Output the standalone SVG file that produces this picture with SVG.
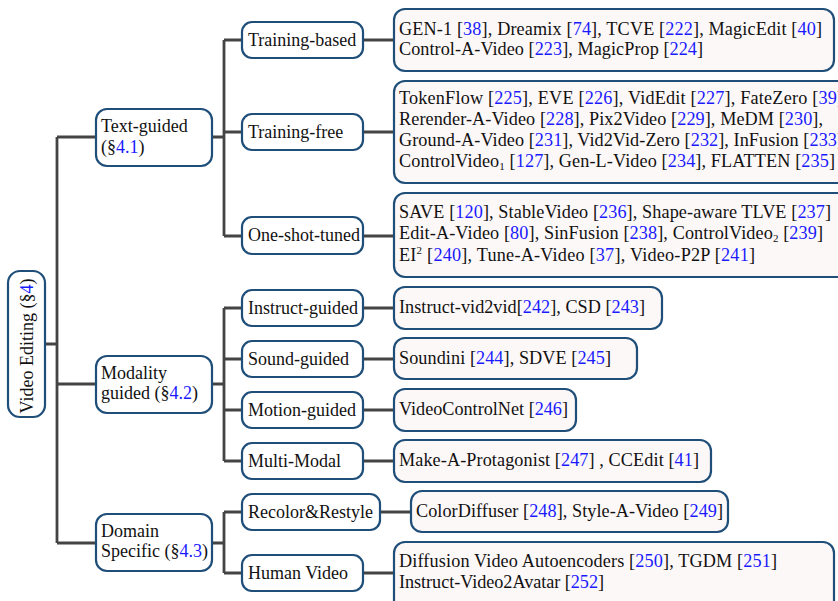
<svg xmlns="http://www.w3.org/2000/svg" width="838" height="601" viewBox="0 0 838 601">
<style>
text{font-family:"Liberation Serif","Times New Roman",serif;font-size:18px;fill:#111}
.r{fill:#1a1aff}
.n rect{fill:#fff;stroke:#1f4e79;stroke-width:2.2}
.l rect{fill:#fdf8f8;stroke:#1f4e79;stroke-width:2.2}
.l text{font-size:18.2px}
.c path{fill:none;stroke:#444;stroke-width:2.8}
</style>
<rect width="838" height="601" fill="#fff"/>
<g class="c">
<path d="M45 344H57M57 137V543M57 137H96M57 384H96M57 543H96"/>
<path d="M212 137H224M224 40V236M224 40H242M224 132H242M224 236H242"/>
<path d="M212 384H224M224 308V461M224 308H242M224 359H242M224 410H242M224 461H242"/>
<path d="M212 543H224M224 512V573M224 512H242M224 573H242"/>
<path d="M363 40H394M363 132H394M363 236H394M363 308H394M363 359H394M363 410H394M363 461H394M380 512H411M363 573H394"/>
</g>
<g id="root" class="n"><rect x="8" y="271" width="37" height="146" rx="12"/>
<text transform="translate(32.5 346) rotate(-90)" text-anchor="middle">Video Editing (§<tspan class="r">4</tspan>)</text></g>
<g id="text-guided" class="n"><rect x="96" y="109" width="116" height="57" rx="11"/>
<text x="101" y="132">Text-guided</text><text x="101" y="152.5">(§<tspan class="r">4.1</tspan>)</text></g>
<g id="modality" class="n"><rect x="96" y="356" width="116" height="57" rx="11"/>
<text x="101" y="378.5">Modality</text><text x="101" y="399">guided (§<tspan class="r">4.2</tspan>)</text></g>
<g id="domain" class="n"><rect x="96" y="514" width="116" height="57" rx="11"/>
<text x="101" y="536.5">Domain</text><text x="101" y="557">Specific (§<tspan class="r">4.3</tspan>)</text></g>
<g id="training-based" class="n"><rect x="242" y="22" width="121" height="36" rx="10"/><text x="248" y="45.5">Training-based</text></g>
<g id="training-free" class="n"><rect x="242" y="114" width="121" height="36" rx="10"/><text x="248" y="137.5">Training-free</text></g>
<g id="one-shot" class="n"><rect x="242" y="217" width="121" height="37" rx="10"/><text x="248" y="241">One-shot-tuned</text></g>
<g id="instruct" class="n"><rect x="242" y="290" width="121" height="36" rx="10"/><text x="248" y="313.5">Instruct-guided</text></g>
<g id="sound" class="n"><rect x="242" y="341" width="121" height="36" rx="10"/><text x="248" y="364.5">Sound-guided</text></g>
<g id="motion" class="n"><rect x="242" y="392" width="121" height="36" rx="10"/><text x="248" y="415.5">Motion-guided</text></g>
<g id="multi" class="n"><rect x="242" y="443" width="121" height="36" rx="10"/><text x="248" y="466.5">Multi-Modal</text></g>
<g id="recolor" class="n"><rect x="242" y="494" width="138" height="36" rx="10"/><text x="248" y="517.5">Recolor&amp;Restyle</text></g>
<g id="human" class="n"><rect x="242" y="555" width="121" height="36" rx="10"/><text x="248" y="578.5">Human Video</text></g>
<g id="leaf-tb" class="l"><rect x="394" y="9" width="440" height="62" rx="11"/>
<text x="399" y="34.5" textLength="423" lengthAdjust="spacing">GEN-1 [<tspan class="r">38</tspan>], Dreamix [<tspan class="r">74</tspan>], TCVE [<tspan class="r">222</tspan>], MagicEdit [<tspan class="r">40</tspan>]</text>
<text x="399" y="55" textLength="304" lengthAdjust="spacing">Control-A-Video [<tspan class="r">223</tspan>], MagicProp [<tspan class="r">224</tspan>]</text></g>
<g id="leaf-tf" class="l"><rect x="394" y="81" width="460" height="102" rx="11"/>
<text x="399" y="104" textLength="444" lengthAdjust="spacing">TokenFlow [<tspan class="r">225</tspan>], EVE [<tspan class="r">226</tspan>], VidEdit [<tspan class="r">227</tspan>], FateZero [<tspan class="r">39</tspan>]</text>
<text x="399" y="125" textLength="424" lengthAdjust="spacing">Rerender-A-Video [<tspan class="r">228</tspan>], Pix2Video [<tspan class="r">229</tspan>], MeDM [<tspan class="r">230</tspan>],</text>
<text x="399" y="146" textLength="444" lengthAdjust="spacing">Ground-A-Video [<tspan class="r">231</tspan>], Vid2Vid-Zero [<tspan class="r">232</tspan>], InFusion [<tspan class="r">233</tspan>]</text>
<text x="399" y="166.5" textLength="436" lengthAdjust="spacing">ControlVideo<tspan font-size="11" dy="3">1</tspan><tspan dy="-3"> [</tspan><tspan class="r">127</tspan>], Gen-L-Video [<tspan class="r">234</tspan>], FLATTEN [<tspan class="r">235</tspan>]</text></g>
<g id="leaf-os" class="l"><rect x="394" y="193" width="460" height="84" rx="11"/>
<text x="399" y="218" textLength="432" lengthAdjust="spacing">SAVE [<tspan class="r">120</tspan>], StableVideo [<tspan class="r">236</tspan>], Shape-aware TLVE [<tspan class="r">237</tspan>]</text>
<text x="399" y="239" textLength="424" lengthAdjust="spacing">Edit-A-Video [<tspan class="r">80</tspan>], SinFusion [<tspan class="r">238</tspan>], ControlVideo<tspan font-size="11" dy="3">2</tspan><tspan dy="-3"> [</tspan><tspan class="r">239</tspan>]</text>
<text x="399" y="260.5" textLength="356" lengthAdjust="spacing">EI<tspan font-size="11" dy="-7">2</tspan><tspan dy="7"> [</tspan><tspan class="r">240</tspan>], Tune-A-Video [<tspan class="r">37</tspan>], Video-P2P [<tspan class="r">241</tspan>]</text></g>
<g id="leaf-instruct" class="l"><rect x="394" y="287" width="268" height="42" rx="11"/>
<text x="399" y="313" textLength="246" lengthAdjust="spacing">Instruct-vid2vid[<tspan class="r">242</tspan>], CSD [<tspan class="r">243</tspan>]</text></g>
<g id="leaf-sound" class="l"><rect x="394" y="338" width="243" height="41" rx="11"/>
<text x="399" y="364" textLength="212" lengthAdjust="spacing">Soundini [<tspan class="r">244</tspan>], SDVE [<tspan class="r">245</tspan>]</text></g>
<g id="leaf-motion" class="l"><rect x="394" y="389" width="182" height="42" rx="11"/>
<text x="399" y="415" textLength="169" lengthAdjust="spacing">VideoControlNet [<tspan class="r">246</tspan>]</text></g>
<g id="leaf-multi" class="l"><rect x="394" y="440" width="317" height="42" rx="11"/>
<text x="399" y="466" textLength="300" lengthAdjust="spacing">Make-A-Protagonist [<tspan class="r">247</tspan>] , CCEdit [<tspan class="r">41</tspan>]</text></g>
<g id="leaf-recolor" class="l"><rect x="411" y="491" width="317" height="41" rx="11"/>
<text x="416" y="517" textLength="307" lengthAdjust="spacing">ColorDiffuser [<tspan class="r">248</tspan>], Style-A-Video [<tspan class="r">249</tspan>]</text></g>
<g id="leaf-human" class="l"><rect x="394" y="542" width="440" height="70" rx="11"/>
<text x="399" y="567" textLength="378" lengthAdjust="spacing">Diffusion Video Autoencoders [<tspan class="r">250</tspan>], TGDM [<tspan class="r">251</tspan>]</text>
<text x="399" y="588" textLength="205" lengthAdjust="spacing">Instruct-Video2Avatar [<tspan class="r">252</tspan>]</text></g>
</svg>
